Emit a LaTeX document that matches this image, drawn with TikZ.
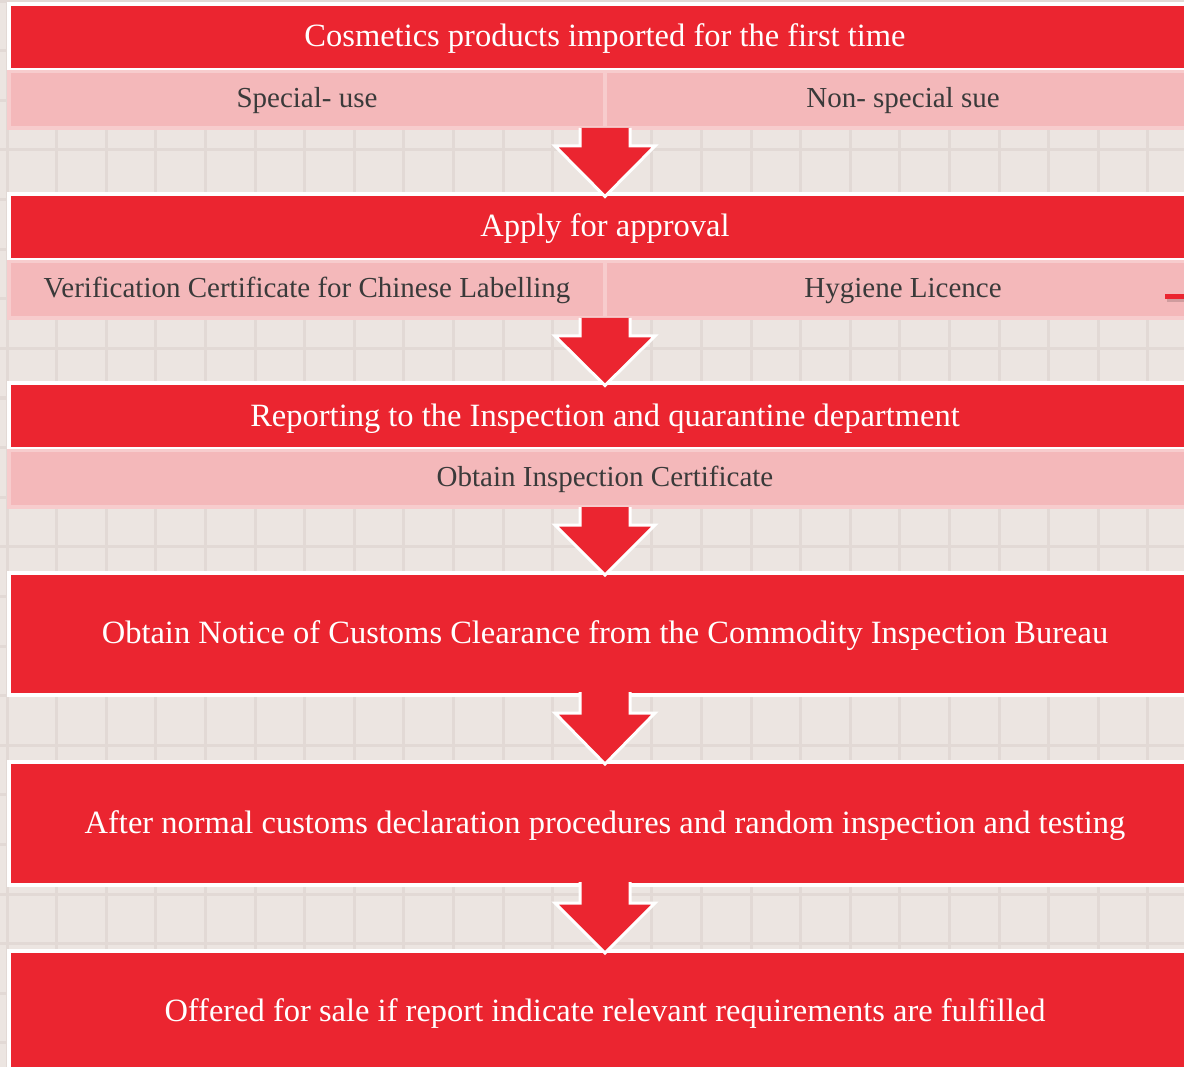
\documentclass[tikz,border=0pt]{standalone}
\usepackage{fontspec}
\setmainfont{Liberation Serif}
\usetikzlibrary{calc}

\definecolor{flowred}{RGB}{235,37,48}
\definecolor{bandpink}{RGB}{244,184,186}
\definecolor{bandedge}{RGB}{247,204,205}
\definecolor{paper}{RGB}{236,229,225}
\definecolor{gridline}{RGB}{226,217,213}
\definecolor{bandtext}{RGB}{58,58,58}

\tikzset{
  stage/.style={fill=flowred, draw=white, line width=4pt, text=white,
    font=\fontsize{32.5}{38}\selectfont, minimum width=1192pt,
    text height=25pt, text depth=5.5pt, inner sep=0pt, outer sep=0pt},
  band/.style={fill=bandpink, draw=bandedge, line width=3.5pt, text=bandtext,
    font=\fontsize{29}{34}\selectfont, minimum height=56.5pt,
    text height=21.5pt, text depth=6pt, inner sep=0pt, outer sep=0pt},
  flow/.style={fill=flowred, draw=white, line width=3pt, line join=miter}
}

% block arrow from the bottom of one step to the top of the next;
% the optional argument moves the start of the shaft up
\newcommand{\flowarrow}[3][0]{
  \filldraw[flow] ($(#2)+(-25,-#1)$) -- ($(#2)+(-25,18)$) -- ($(#2)+(-50,18)$)
    -- ($(#3)+(0,2)$) -- ($(#2)+(50,18)$) -- ($(#2)+(25,18)$) -- ($(#2)+(25,-#1)$);
}

\begin{document}
\begin{tikzpicture}[x=1pt, y=-1pt]
\useasboundingbox (0,0) rectangle (1184,1067);
\clip (0,0) rectangle (1184,1067);

% squared paper
\fill[paper] (0,0) rectangle (1184,1067);
\foreach \i in {0,...,24}
  \draw[gridline, line width=3pt] ({7+49.6*\i},0) -- ({7+49.6*\i},1067);
\foreach \j in {0,...,21}
  \draw[gridline, line width=3pt] (0,{1.2+49.6*\j}) -- (1184,{1.2+49.6*\j});

% steps
\node[stage, minimum height=65.5pt] (first) at (605,37.25)
  {Cosmetics products imported for the first time};
\node[band, minimum width=596pt] (special) at (307,99.75) {Special- use};
\node[band, minimum width=596pt] (nonspecial) at (903,99.75) {Non- special sue};

\node[stage, minimum height=65.5pt] (apply) at (605,227.25) {Apply for approval};
\node[band, minimum width=596pt] (labelling) at (307,289.75)
  {Verification Certificate for Chinese Labelling};
\node[band, minimum width=596pt] (hygiene) at (903,289.75) {Hygiene Licence};

\node[stage, minimum height=65.5pt] (report) at (605,416.25)
  {Reporting to the Inspection and quarantine department};
\node[band, minimum width=1192pt] (certificate) at (605,478.75)
  {Obtain Inspection Certificate};

\node[stage, minimum height=122pt] (notice) at (605,634)
  {Obtain Notice of Customs Clearance from the Commodity Inspection Bureau};
\node[stage, minimum height=123pt] (declare) at (605,823.5)
  {After normal customs declaration procedures and random inspection and testing};
\node[stage, minimum height=122pt] (sale) at (605,1012)
  {Offered for sale if report indicate relevant requirements are fulfilled};

% arrows between the steps
\flowarrow{special.south east}{apply.north}
\flowarrow{labelling.south east}{report.north}
\flowarrow{certificate.south}{notice.north}
\flowarrow[3]{notice.south}{declare.north}
\flowarrow[3]{declare.south}{sale.north}

% link running off to the right
\coordinate (side) at (1165,296.5);
\draw[black, opacity=.15, line width=5pt] ($(side)+(2,3)$) -- ++(30,0);
\draw[flowred, line width=5pt] (side) -- ++(30,0);
\end{tikzpicture}
\end{document}
